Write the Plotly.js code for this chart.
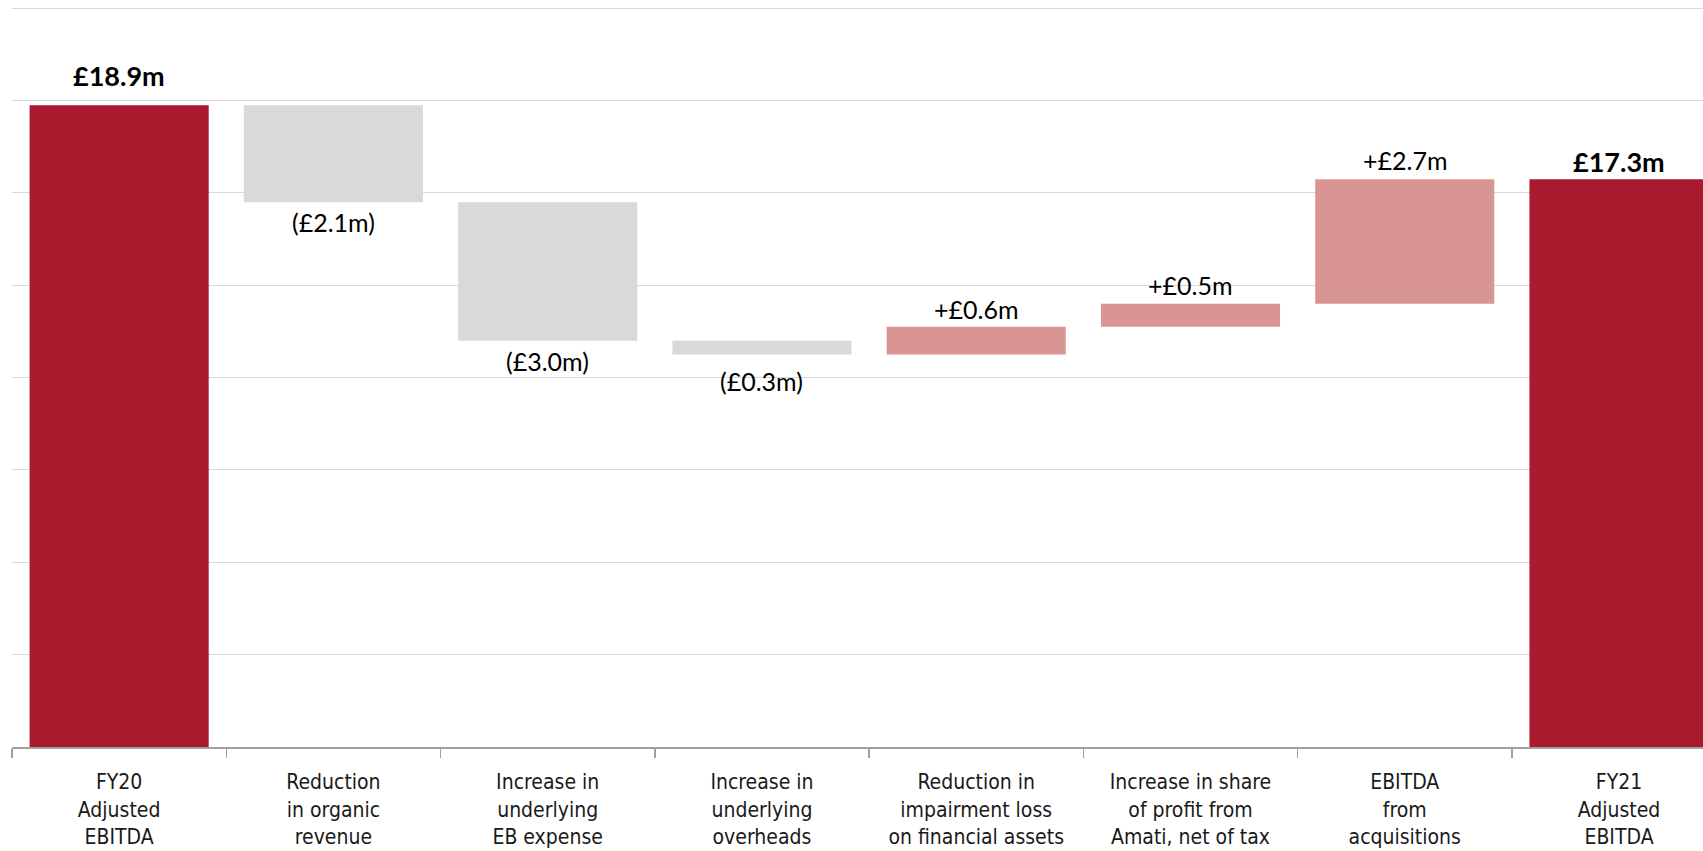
<!DOCTYPE html>
<html>
<head>
<meta charset="utf-8">
<script src="https://cdn.plot.ly/plotly-3.0.1.min.js"></script>
<style>
  html, body { margin: 0; padding: 0; background: #ffffff; }
  #chart { width: 1703px; height: 851px; }
</style>
</head>
<body>
<div id="chart"></div>
<script>
// EBITDA bridge, FY20 to FY21 (£m)
const categories = [
  "FY20<br>Adjusted<br>EBITDA",
  "Reduction<br>in organic<br>revenue",
  "Increase in<br>underlying<br>EB expense",
  "Increase in<br>underlying<br>overheads",
  "Reduction in<br>impairment loss<br>on financial assets",
  "Increase in share<br>of profit from<br>Amati, net of tax",
  "EBITDA<br>from<br>acquisitions",
  "FY21<br>Adjusted<br>EBITDA"
];
const measures = ["absolute", "relative", "relative", "relative", "relative", "relative", "relative", "total"];
const changes = [18.9, -2.1, -3.0, -0.3, 0.6, 0.5, 2.7, 0];

// label offsets (px) from the bar edge they sit on
const labelGap = [30, 20, 20, 26, 18, 19, 19, 18];

const RED = "#AA1A2E", GREY = "#D9D9D9", PINK = "#D99594";

// running totals to place the value labels
let running = 0;
const annotations = [];
categories.forEach((cat, i) => {
  let start, end, text, bold = false;
  if (measures[i] === "absolute") {
    start = 0; end = changes[i]; running = end;
  } else if (measures[i] === "total") {
    start = 0; end = running;
  } else {
    start = running; end = running + changes[i]; running = end;
  }
  const v = measures[i] === "relative" ? changes[i] : end;
  if (measures[i] !== "relative") {
    text = "<b>£" + v.toFixed(1) + "m</b>";
    bold = true;
  } else if (v < 0) {
    text = "(£" + Math.abs(v).toFixed(1) + "m)";
  } else {
    text = "+£" + v.toFixed(1) + "m";
  }
  const down = measures[i] === "relative" && v < 0;
  annotations.push({
    x: cat, y: down ? end : Math.max(start, end),
    xref: "x", yref: "y",
    text: text, showarrow: false,
    yanchor: "middle", yshift: down ? -labelGap[i] : labelGap[i],
    font: { family: "Lato, 'Open Sans', sans-serif", size: bold ? 27 : 25, color: "#000000" }
  });
});

const trace = {
  type: "waterfall",
  x: categories,
  y: changes,
  measure: measures,
  connector: { visible: false },
  increasing: { marker: { color: PINK } },
  decreasing: { marker: { color: GREY } },
  totals: { marker: { color: RED } },
  textinfo: "none",
  hoverinfo: "skip"
};

const layout = {
  width: 1703, height: 851,
  margin: { l: 12, r: 0, t: 6, b: 104 },
  paper_bgcolor: "#ffffff", plot_bgcolor: "#ffffff",
  showlegend: false,
  waterfallgap: 0.164,
  xaxis: {
    type: "category",
    range: [-0.5, 7.392],
    showline: true, linecolor: "#a0a0a0", linewidth: 2,
    ticks: "outside", tickson: "boundaries", ticklen: 9, tickcolor: "#a0a0a0", tickwidth: 1.5,
    ticklabelstandoff: 15,
    showgrid: false, zeroline: false,
    tickfont: { family: "'Liberation Sans Narrow', 'DejaVu Sans Condensed', 'Liberation Sans', sans-serif", size: 21, color: "#1a1a1a" },
    fixedrange: true
  },
  yaxis: {
    range: [5, 21.05],
    tick0: 5, dtick: 2,
    showticklabels: false,
    showgrid: true, gridcolor: "#d9d9d9", gridwidth: 1,
    zeroline: false, showline: false,
    fixedrange: true
  },
  annotations: annotations
};

Plotly.newPlot("chart", [trace], layout, { displayModeBar: false, staticPlot: true });
</script>
</body>
</html>
